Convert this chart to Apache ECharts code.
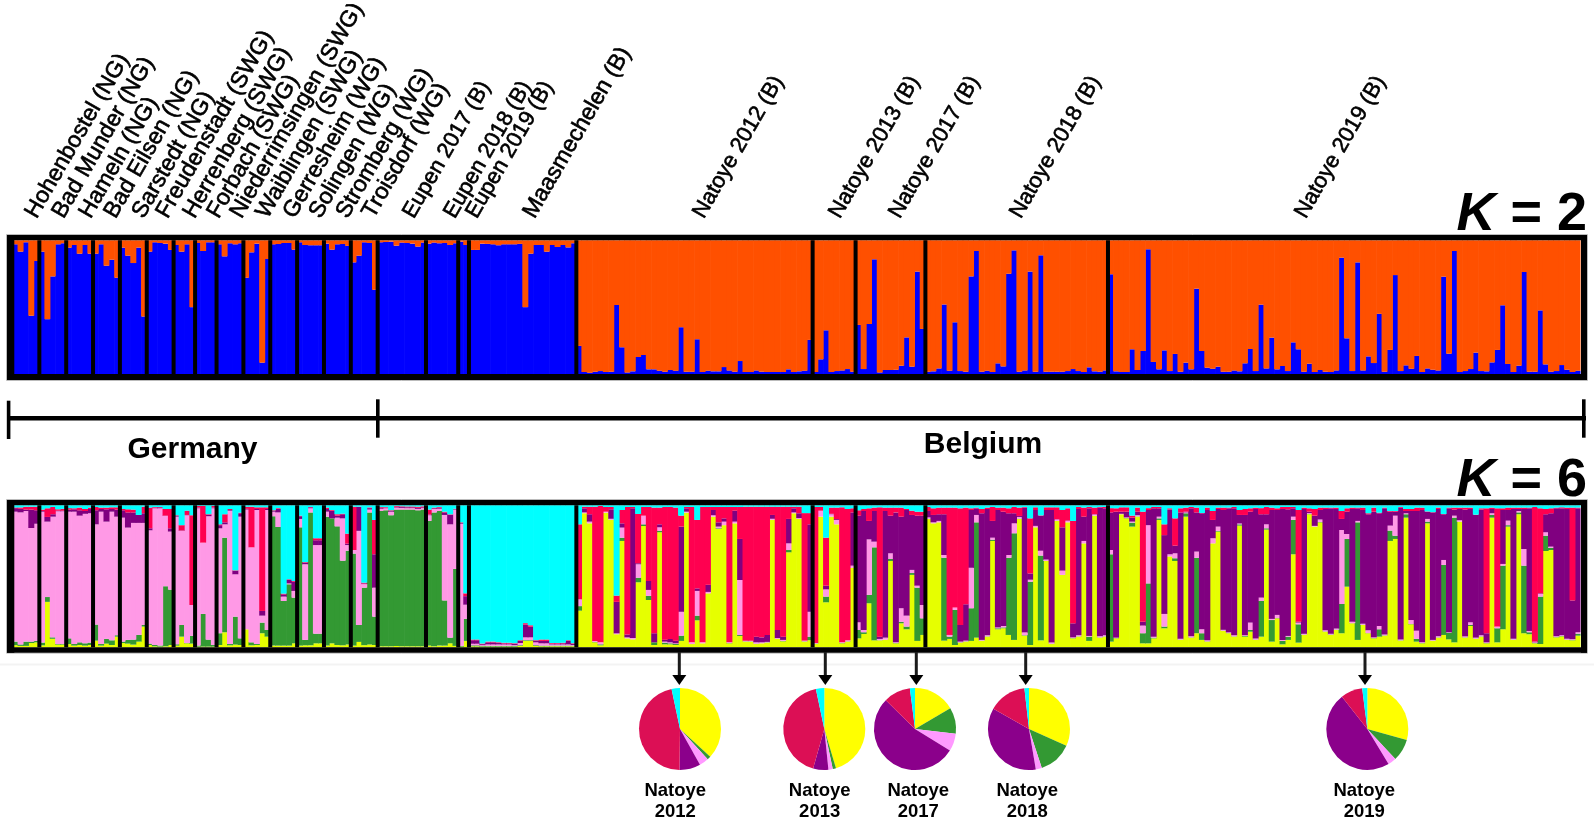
<!DOCTYPE html>
<html><head><meta charset="utf-8">
<script src="https://cdn.jsdelivr.net/npm/echarts@6/dist/echarts.min.js"></script>
<style>html,body{margin:0;padding:0;background:#fff}#c{width:1594px;height:818px}</style>
</head><body><div id="c"></div>
<script>
// K = 2: share of the blue cluster (%), one value per individual
const k2Hohenbostel=[97,91.5,98.5,43.6,84.5];
const k2BadMunder=[91.5,41,73,97,97.8];
const k2Hameln=[94.5,96.5,90,96.5,90];
const k2BadEilsen=[90,97,81,85.5,72];
const k2Sarstedt=[94.5,88.5,83,94.5,43];
const k2Freudenstadt=[91.5,98.5,98,97.5,92.8];
const k2Herrenberg=[96.5,91.5,97,50];
const k2Forbach=[98,92,98.5,98.5];
const k2Niederrimsingen=[97,88,97.8,97,97.8];
const k2Waiblingen=[72,91,97.5,8.5,86];
const k2Gerresheim=[97,97.2,98,98,93];
const k2Solingen=[98.5,96.5,96.3,96.3,96.3];
const k2Stromberg=[97.5,93,97,97.2,95.8];
const k2Troisdorf=[83.5,88.5,98.5,98,63];
const k2Eupen2017=[98.5,98.7,99,96,98.3,98,97.5,95.3,98.3];
const k2Eupen2018=[97.5,98.3,97.8,98,96.5,97.8];
const k2Eupen2019=[99,96.5];
const k2Maasmechelen=[92.8,92.8,97.5,97.3,97,96.3,97,97,97,97.3,50,90,96.5,96.5,91.5,96.5,95,96.5,94.7,97.8];
const k2Natoye2012=[21,1.5,1,1.7,2.2,1.5,1.7,51.6,20,1.2,2,12.7,14.2,3.5,3.5,2.5,1.7,3,2.5,35,1.7,1.7,26,1.5,2.5,2,2,5.2,2.7,1.7,9.7,1.5,1.5,2.7,1.7,1.5,1.5,1.5,1.5,3.5,1.5,2,2.5,25.5];
const k2Natoye2013=[1.5,11,32.7,1.5,2.2,2.7,3.7,1.7];
const k2Natoye2017=[36.7,3.7,37.4,85.8,1.2,3,3,3.2,6.2,27.4,5.5,76.6,33.7];
const k2Natoye2018=[1.7,2,4.2,52,2.5,38.7,2.2,1.7,73,92,1.7,2.5,1.5,8,5.7,75,92.5,1.7,2.7,76.6,1.7,88.8,1.7,1.7,1.7,1.7,2.2,3.7,2.2,1.5,5,2,1.7,2.7];
const k2Natoye2019=[74.6,2,1.5,1.5,18.5,3,17.2,93.3,9,3.5,17.7,2.2,15,1.7,8.5,3.5,63.8,17.2,4.7,4,5.5,1.7,1.7,2.7,2,8,18.7,2.2,51.9,4.2,27.2,3.5,6,2.2,23.7,18.5,1.7,7.7,1.5,3,1.7,1.5,2.7,87,26.7,2.2,83.5,2.7,13.2,8.2,45,1.7,18,74,2.2,6.5,4,13.5,1.5,4.2,3.2,2.7,72.8,15.2,92,1.5,2.2,3.7,16,2.2,2,8.7,18,51.4,7.5,1.5,6.2,76.3,1.7,1.7,47.6,7.2,1.7,2.2,6.7,3.2,1.5,2.5];

// K = 6: running totals (%) per individual, in stack order
// [yellow, +green, +pink, +purple, +crimson]; cyan fills the rest up to 100
const k6Hohenbostel=[[1.5,4,95.5,98,98.5],[1,2,95,97.5,98.5],[1,4,96,97,99],[3,4,84,97,99],[3.5,4.5,87,96.5,99]];
const k6BadMunder=[[1.4,3.3,95.5,96,97],[32,35.4,88.5,91.8,97.9],[6,7,92,93.7,98.8],[1.9,2.3,95.8,96.2,97.2],[1.9,2.3,95.8,96.2,97.5]];
const k6Hameln=[[2.3,6.3,95.5,97,98],[1.2,2.3,95.5,97.2,97.9],[1.6,3.5,92.7,96.5,98.4],[1.2,2.8,94,96,97.4],[1.6,3.3,94.4,97.4,98.4]];
const k6BadEilsen=[[4.7,16,86.6,96.5,98.8],[1.2,2.3,95.5,97.4,98.4],[2.6,5.9,88.5,97.2,98.4],[1.6,4.9,95.5,97.4,98.6],[7.5,8.5,92,97,98.6]];
const k6Sarstedt=[[3,4,91.3,96.5,97.4],[2.6,5.2,84.3,95,97.2],[1.9,5.4,87.6,95,97],[4,8.7,87.6,93.2,93.2],[14.6,15.7,87.6,94.4,99]];
const k6Freudenstadt=[[1.6,2.6,82.4,83.8,98.4],[.7,1.6,97.9,98.4,98.8],[.5,1.2,97.9,98.6,98.8],[.7,43,92.5,92.7,97.4],[1.6,40.6,81.5,83.8,97.4]];
const k6Herrenberg=[[1.2,2.1,92,92.5,93],[7.5,15.7,82,82.3,86],[2.8,3,93,93.2,96.2],[2.6,8,29.8,29.8,93]];
const k6Forbach=[[.5,1.2,97.9,98.4,99.5],[.5,23.5,73.7,73.7,99.5],[.5,5.4,92.3,93.2,93.7],[.5,1.6,97.9,98.4,99.5]];
const k6Niederrimsingen=[[1.6,9.9,83.8,86,86.6],[10.6,77.2,86.6,88,93.7],[1.4,2.3,96.2,96.7,97.4],[1.9,21.6,51.4,53.8,54.2],[1.6,6.3,92,94.4,94.8]];
const k6Waiblingen=[[12.7,12.7,97,97.5,99],[1.4,3.5,70.4,70.4,99],[1.6,2.3,96.7,97.4,98.6],[9.9,17.4,22.3,25.6,98.6],[7.5,12.2,96.7,97.4,98.6]];
const k6Gerresheim=[[1.2,92.3,95.5,96,96.5],[1.2,84.7,95,97.5,98],[1.2,32.6,35.7,37.3,37.8],[1.2,44.4,45,47.4,47.9],[2.8,35,39.7,46.2,46.7]];
const k6Solingen=[[1.2,84.5,90.4,92.3,92.7],[1.4,5.2,58.5,59.6,60],[1.4,95,97.9,98.6,98.8],[2.8,9.6,72,75.4,76.8],[2.8,9.6,72,75.4,76.8]];
const k6Stromberg=[[1.2,92,95.5,97.4,98.4],[2.8,90.8,90.8,96.2,96.7],[1.6,85.2,91.3,92.7,93.7],[1.4,61,90.8,93.7,94.1],[2,68,72,73,80]];
const k6Troisdorf=[[1.2,66,68.5,68.5,99],[3.8,15.7,82,98.8,99],[1.5,42,44.5,45,45.5],[2,95,97,98,98.5],[1.6,21.6,42,65.5,89.7]];
const k6Eupen2017=[[.7,96,97.5,98,98.7],[.7,96.5,97.9,98.2,98.7],[.7,93,95.5,96,96.5],[1,97,98.4,99,99.5],[.7,97,98.2,98.8,99.3],[.7,97,98,98.6,99.2],[.7,97,98,98.6,99.2],[.7,96.5,97.5,98.2,99],[.7,97,98,98.6,99.3]];
const k6Eupen2018=[[1.2,89,93,93.5,97],[.7,95,97.4,97.9,98.4],[1.2,96,97.6,98.4,98.8],[1.2,33,93.2,95,95.5],[2.8,6.8,86.6,93.2,93.6],[1,55.2,97,97.4,97.6]];
const k6Eupen2019=[[.5,1,87,87.5,88],[4.5,20,30,36,38]];
const k6Maasmechelen=[[.7,1.4,2.5,5,5.5],[.7,1.4,2.5,5,5.5],[.5,1,1.5,2.2,2.6],[.5,1,2,3.5,4],[.5,1,2,3.5,4],[.5,1,2,3,3.5],[.5,1,2,2.7,3.2],[.5,1,2,2.7,3.2],[.5,1,1.5,2.3,2.8],[1,1.5,3,4.5,5],[4.5,5,7,16,17],[4.5,5,7,14.5,15.5],[1,1.5,3.5,4.5,5],[.7,1.2,2.8,4.5,5.5],[.7,1.2,2.8,4.5,5.5],[.7,1.2,2,2.6,3],[.7,1.2,2,2.6,3],[.7,1.2,2,2.8,3.2],[.7,1.2,2,4.5,5],[.7,1.2,1.6,2.3,2.8]];
const k6Natoye2012=[[25.8,29,33.8,33.8,86.6],[94.4,94.4,95,97.9,99],[87.3,87.3,88.5,93.7,99],[3.5,3.8,4.5,4.5,99],[1.4,2.1,3.5,3.5,99.5],[94.8,94.8,95.5,95.5,98.8],[89.7,89.7,90.5,97.2,98.8],[9.2,9.2,9.8,32,36.4],[74.9,77.2,84.3,87.3,96.7],[6.3,6.3,7,9,98.8],[5.6,5.6,6.5,97.9,98.8],[45.8,49,58.5,59.2,93.9],[85.4,86.6,92.7,92.7,98.8],[33.3,36.2,40.4,46.7,98.8],[1.6,3.5,3.5,9.9,98.4],[81,81.9,84.5,86.6,98.4],[2.1,3.3,4,5.4,98.8],[2.1,2.8,3.5,5.9,98.8],[1.6,2.3,2.8,4.7,98.4],[4.5,8.2,25,85,92.7],[94.8,94.8,95.5,97.9,98.8],[2.3,2.3,3.5,3.5,98.8],[19,22.3,39.7,41.5,89.7],[2.8,2.8,3.5,3.5,98.8],[38,38,39,44,98.8],[92,92,93,96.7,98.8],[83.3,83.8,85,88,98.8],[86,86,88.5,90.8,98.8],[2.8,3,3.5,3.5,98.8],[87.3,87.3,88.5,96.2,98.8],[8,8.7,47.4,76.3,98.8],[4,4.2,4.7,4.7,99],[4,4.2,4.7,4.7,99],[2.3,2.5,3.5,7.5,99],[2.8,2.8,3.5,7,99],[3.3,3.5,3.8,8.7,99],[89.7,89.7,90.5,93.2,99],[5.9,6,6.5,12.2,99],[4.2,4.5,5.2,7.5,99],[66.9,68.5,73.2,90.4,99],[94.4,94.4,95,97.9,99],[90.4,90.4,91,94.4,99],[4,4.2,4.7,4.7,94.5],[5,7.5,25,86.6,94.5]];
const k6Natoye2013=[[2.3,2.6,3,3,98.8],[92,92,96.2,96.2,98.8],[31.7,35.7,40.8,43.4,77.2],[92,92,93.7,94,98.4],[86.6,86.6,89.7,90.3,98.4],[2.8,3,3.5,3.5,98.6],[4,4.2,5,5,97.4],[56,56,57.5,95,97.9]];
const k6Natoye2017=[[6.3,12.2,17.6,92.7,96.5],[9.4,10.6,12.2,96,97.4],[31,36.9,76,89,97.9],[4.9,70.4,74.4,96,98.4],[4.9,5,5.9,7.5,98.6],[5.4,5.4,6.8,96,98.4],[60.8,62.2,66.2,92.7,98.4],[2.8,3,3.5,95,98.4],[16.9,18,27.5,92,98.4],[12.7,14.6,22.3,96.7,97.4],[51,52.3,54.5,93.2,96.2],[4.5,42,43.4,92.7,95.5],[8.7,20.4,29.8,92.7,95.5]];
const k6Natoye2018=[[90.4,90.4,91.5,96,98.8],[87.3,87.3,88,93.2,97.9],[88,88,89,93.7,98.4],[4.7,63.1,65,93.7,98.4],[5.9,7.5,8.7,8.7,98.4],[1.6,26.3,28,28,98.4],[3.3,3.5,4,15.7,97.9],[4,4.2,4.7,30.3,98.4],[4.5,27.5,56,96.7,97.9],[6.8,88,93.2,97.9,98.4],[4.5,4.7,5.2,94.4,97.4],[7.5,7.7,8.5,97.4,98.4],[74.9,75.8,77.2,89,98.8],[12.7,13.4,14,96.7,98.4],[13.4,14,15,95.5,98.4],[8.7,63,65,94.4,97.9],[5.2,80.3,87.3,94.4,98.8],[90.4,90.6,91.8,92.5,98.4],[8.2,8.5,10.5,98.4,98.8],[1.6,46.2,47.6,52,90.8],[84.5,84.5,85.5,96.7,98.6],[4.9,64.6,68,92.7,92.9],[60.8,60.8,61.8,96.7,98.6],[2.3,2.5,3.3,96.7,98.6],[89,89,90,90.2,98.6],[51,51,54,84.5,96.7],[88,88,89,89.3,97.9],[6.3,6.5,7,16.9,89],[7.5,7.7,8.5,97.4,98.8],[73.2,73.2,74.9,92,98.4],[4.5,7.5,8,97.9,98.8],[92.7,92.7,93.5,93.7,98.4],[6.8,7,7.7,98.4,98.8],[7.5,7.7,8.5,97.9,98.8]];
const k6Natoye2019=[[4,65.5,68.5,95,98],[6.3,6.5,6.8,95.5,97.9],[93.7,93.7,94,95.5,98.6],[90.8,91,91.5,95.5,98.6],[85,87.8,88.5,91.3,92.7],[92,92.2,93,95.5,98.4],[2.8,9.9,15.3,18,95.5],[2.8,45,86,96.7,98],[6.3,6.8,7.5,97.9,98.8],[89.7,90.8,92,97.9,98.8],[13.4,14.6,23.5,79,86.6],[64,64,65.5,97,97.9],[60.8,62.7,66.2,71.6,90.8],[5.2,5.4,6,95,97.9],[92,94.4,95,95.5,98.4],[6.8,7,7.7,97.9,98.8],[9.9,63,67.4,95,98.4],[5.2,9.9,12.7,94.4,94.6],[4,4.2,5,96.7,98.4],[73.2,73.2,76.8,89.7,96],[81.5,82,85,97.4,98.4],[11.5,11.7,12.3,96.7,98.4],[9.9,10,10.5,97.9,98.4],[7.5,7.7,8.5,97.9,98.8],[85.7,86.6,87.2,93.2,96.7],[7.5,8,8.5,93.2,97.4],[11,12.2,17.4,95.5,97.9],[5.2,5.4,6.2,97.4,98.4],[7.5,32.6,35,93.7,98],[82.9,83.8,86.6,93.7,98.8],[4,19.2,20,96.7,98.4],[20.4,20.6,22.8,96.7,97.9],[2.1,4.5,5.2,97.4,98.8],[5.2,7.5,8,97.2,98.8],[65.5,89.7,92,97.9,98.8],[3.3,16.2,17.4,18,96.7],[8.7,8.9,9.5,97.4,98.4],[93.7,93.9,94.5,95.5,97.9],[85,85,85.5,92.7,97.4],[88,88.3,90,96.7,98.4],[11,11.2,12,97.4,98.4],[8.7,9,9.5,97.9,98.4],[12.2,12.4,13.2,97.4,98.4],[9.9,30.5,82.6,90.4,96],[42.7,76.3,79.8,95.5,97.9],[16.9,17,18,97.4,98.4],[5.2,88,89,97.9,98.4],[15.7,15.9,16.6,96.7,98.4],[9.9,10,12,93.7,94.4],[6.3,6.5,7,95.5,98.4],[7.5,12.7,15,94.4,94.8],[8.2,8.4,9,97.9,98.4],[74.9,82.2,85.7,95.5,96],[76.3,78.6,92.7,95.5,96],[4.7,4.9,5.5,98.4,98.8],[91.3,93.7,94.4,96,97.4],[16.2,16.4,19.2,96,97.4],[4,5.9,11.7,96,98.4],[2.8,3,3.5,96.7,98.4],[87.3,88.5,90.4,95.5,95.7],[4.5,4.7,5.2,95,95.2],[6.8,7,7.7,97.4,98.4],[8.7,58,61.5,93.7,93.9],[5.6,10.3,10.6,97.9,98.4],[3.5,91.3,92.7,97,98.4],[88.5,88.5,89.5,97.4,98.4],[6.8,7,7.7,97,98.4],[15,15.8,17.6,97.4,98.4],[5.9,6.1,6.8,93.2,93.4],[7.5,7.7,8.5,97,97.9],[2.8,3,3.5,9.9,97.9],[91.3,93.2,94.4,97.4,98.4],[3.5,13.4,14.6,14.6,97.9],[12.7,57.5,58.7,96.7,97.9],[85,86,89.2,96.7,98.4],[5.2,5.4,6,97.4,98.4],[93.7,95,96,97.4,98.4],[9.9,57.5,69.2,97.4,98.4],[9.2,10.6,11.5,97.9,98.4],[2.8,3,3.5,4,98.8],[2.3,35.7,37.6,38,97.9],[67.8,78.6,81,93.7,97.4],[68.5,70,70.9,94.4,97.9],[7,7.2,7.7,97.9,98.4],[7.7,8,8.5,97.9,98.6],[5.2,5.4,6,97.4,98.4],[4.9,5.1,5.7,33,98.4],[8.2,9.6,10.6,97.9,98.4]];

// Pie slices (%) in drawing order: yellow, green, pink, purple, crimson, cyan
const pie2012=[36.8,1.4,3.7,8.3,46.5,3.3];
const pie2013=[45.4,1.3,1.7,6,42.3,3.3];
const pie2017=[16.5,10.3,7,53.6,10.6,2];
const pie2018=[31.7,13.2,2.4,35.8,15,1.8];
const pie2019=[29.3,8.7,3.3,48,8.6,2];

const clusterNames=['Cluster 1','Cluster 2','Cluster 3','Cluster 4','Cluster 5','Cluster 6'];
const siteLabels=['Hohenbostel (NG)','Bad Munder (NG)','Hameln (NG)','Bad Eilsen (NG)','Sarstedt (NG)','Freudenstadt (SWG)','Herrenberg (SWG)','Forbach (SWG)','Niederrimsingen (SWG)','Waiblingen (SWG)','Gerresheim (WG)','Solingen (WG)','Stromberg (WG)','Troisdorf (WG)','Eupen 2017 (B)','Eupen 2018 (B)','Eupen 2019 (B)','Maasmechelen (B)','Natoye 2012 (B)','Natoye 2013 (B)','Natoye 2017 (B)','Natoye 2018 (B)','Natoye 2019 (B)'];

const k2Groups=[k2Hohenbostel,k2BadMunder,k2Hameln,k2BadEilsen,k2Sarstedt,k2Freudenstadt,k2Herrenberg,k2Forbach,k2Niederrimsingen,k2Waiblingen,k2Gerresheim,k2Solingen,k2Stromberg,k2Troisdorf,k2Eupen2017,k2Eupen2018,k2Eupen2019,k2Maasmechelen,k2Natoye2012,k2Natoye2013,k2Natoye2017,k2Natoye2018,k2Natoye2019];
const k6Groups=[k6Hohenbostel,k6BadMunder,k6Hameln,k6BadEilsen,k6Sarstedt,k6Freudenstadt,k6Herrenberg,k6Forbach,k6Niederrimsingen,k6Waiblingen,k6Gerresheim,k6Solingen,k6Stromberg,k6Troisdorf,k6Eupen2017,k6Eupen2018,k6Eupen2019,k6Maasmechelen,k6Natoye2012,k6Natoye2013,k6Natoye2017,k6Natoye2018,k6Natoye2019];

const BLUE='#0000ff',ORANGE='#ff5000';
const k6Colors=['#e6ff00','#339933','#ff99e6','#800080','#ff0050','#00ffff'];
const pieColors=['#ffff00','#339933','#ff99ff','#8b008b','#dc0f55','#00ffff'];
const FONT='"Liberation Sans",Arial,sans-serif';

const k2Flat=k2Groups.flat();
const k6Flat=k6Groups.flat();
const N=k2Flat.length;
const cats=k2Flat.map((_,i)=>String(i+1));
// convert running totals to each cluster's share
const k6Shares=k6Flat.map(row=>{let prev=0;const out=[];row.forEach(v=>{const t=Math.max(v,prev);out.push(+(t-prev).toFixed(2));prev=t;});out.push(+(100-prev).toFixed(2));return out;});
// population borders, in individuals from the left
const borders=[];let acc=0;k2Groups.slice(0,-1).forEach(g=>{acc+=g.length;borders.push(acc);});

const STEP=5.37,L=12.5,W=N*STEP,BARW=6;
const panels=[{top:240.3,h:133.7},{top:505.3,h:142}];
const frames=[{x:7,y:235,w:1580,h:145},{x:7,y:500,w:1580,h:152.7}];

const grids=panels.map(p=>({left:L,top:p.top,width:W,height:p.h,containLabel:false,show:false}));
const xAxes=[0,1].map(i=>({type:'category',gridIndex:i,data:cats,show:false}));
const xVal=[0,1].map(i=>({type:'value',gridIndex:i,min:0,max:N,show:false}));
const yAxes=[0,1].map(i=>({type:'value',gridIndex:i,min:0,max:100,show:false}));

const series=[];
series.push({type:'bar',name:'Blue',stack:'k2',xAxisIndex:0,yAxisIndex:0,barWidth:BARW,silent:true,itemStyle:{color:BLUE},data:k2Flat});
series.push({type:'bar',name:'Orange',stack:'k2',xAxisIndex:0,yAxisIndex:0,barWidth:BARW,silent:true,itemStyle:{color:ORANGE},data:k2Flat.map(v=>+(100-v).toFixed(2))});
clusterNames.forEach((n,c)=>{
  series.push({type:'bar',name:n,stack:'k6',xAxisIndex:1,yAxisIndex:1,barWidth:BARW,silent:true,itemStyle:{color:k6Colors[c]},data:k6Shares.map(r=>r[c])});
});
[0,1].forEach(i=>{
  series.push({type:'custom',xAxisIndex:2+i,yAxisIndex:i,z:5,silent:true,clip:false,coordinateSystem:'cartesian2d',
    data:borders.map(b=>[b,100]),encode:{x:0,y:1},
    renderItem:(params,api)=>{
      const a=api.coord([api.value(0),100]),b=api.coord([api.value(0),0]);
      return {type:'rect',shape:{x:a[0]-2,y:a[1],width:4,height:b[1]-a[1]},style:{fill:'#000'}};
    }});
});

const pies=[{y:2012,d:pie2012,c:680,lx:675.3},{y:2013,d:pie2013,c:824.3,lx:819.7},{y:2017,d:pie2017,c:915,lx:918.3},{y:2018,d:pie2018,c:1029,lx:1027.3},{y:2019,d:pie2019,c:1367.3,lx:1364.3}];
const arrowX=[679.3,825.3,916.3,1025.7,1365];
pies.forEach(p=>{
  series.push({type:'pie',name:'Natoye '+p.y,center:[p.c,729],radius:[0,41],startAngle:90,clockwise:true,silent:true,label:{show:false},labelLine:{show:false},
    color:pieColors,itemStyle:{borderWidth:0},data:p.d.map((v,i)=>({value:v,name:clusterNames[i]}))});
});

// decoration
const g=[];
g.push({type:'rect',shape:{x:0,y:663.5,width:1594,height:2},style:{fill:'#f3f3f3'},z:0,silent:true});
frames.forEach((f,i)=>{
  const r=(x,y,w,h)=>g.push({type:'rect',shape:{x,y,width:w,height:h},style:{fill:'#000'},z:90,silent:true});
  const p=panels[i];
  g.push({type:'rect',shape:{x:f.x-.5,y:f.y-.5,width:f.w+1,height:f.h+1},style:{fill:'none',stroke:'#bbb',lineWidth:1},z:89,silent:true});
  r(f.x,f.y,f.w,p.top-f.y);
  r(f.x,p.top+p.h,f.w,f.y+f.h-p.top-p.h);
  r(f.x,f.y,14.3-f.x,f.h);
  r(1581,f.y,f.x+f.w-1581,f.h);
});
const siteAnchors=[[41,222],[68,222],[95,222],[120,222],[148,222],[172,222],[199,222],[223,222],[246,222],[272,222],[299,222],[325,222],[352,222],[378,222],[418,222],[459,222],[481,222],[539,222],[708,222],[844,222],[904,222],[1025,222],[1310,222]];
siteLabels.forEach((t,i)=>{
  const sz=/\d/.test(t)?22:23;
  g.push({type:'text',x:siteAnchors[i][0],y:siteAnchors[i][1],rotation:Math.PI/3,z:95,silent:true,
    style:{text:t,font:sz+'px '+FONT,fill:'#000',stroke:'#000',lineWidth:.6,textAlign:'left',textVerticalAlign:'bottom'}});
});
// brackets
const bar=(x,y,w,h)=>g.push({type:'rect',shape:{x,y,width:w,height:h},style:{fill:'#000'},z:95,silent:true});
bar(7,416,1579,4.6);
bar(6.8,400.7,3.6,38.3);
bar(376,399.3,3.6,38.4);
bar(1582,399.3,3.6,38.4);
const bold=(t,x,y,s,al)=>g.push({type:'text',x,y,z:95,silent:true,style:{text:t,font:'bold '+s+'px '+FONT,fill:'#000',textAlign:al||'center',textVerticalAlign:'middle'}});
bold('Germany',192.5,450,30);
bold('Belgium',983,445,30);
// K labels
[['2',215],['6',481]].forEach(([n,y])=>{
  g.push({type:'text',x:1587,y,z:95,silent:true,style:{text:'{k|K}{n| = '+n+'}',textAlign:'right',textVerticalAlign:'middle',fill:'#000',
    rich:{k:{font:'italic bold 54px '+FONT,fill:'#000'},n:{font:'bold 54px '+FONT,fill:'#000'}}}});
});
// arrows + pie captions
arrowX.forEach(x=>{
  g.push({type:'rect',shape:{x:x-1.5,y:652,width:3,height:24},style:{fill:'#1a1a1a'},z:95,silent:true});
  g.push({type:'polygon',shape:{points:[[x-7,675],[x+7,675],[x,685]]},style:{fill:'#000'},z:95,silent:true});
});
pies.forEach(p=>{
  bold('Natoye',p.lx,790.5,18.5);
  bold(String(p.y),p.lx,811.5,18.5);
});

const chart=echarts.init(document.getElementById('c'),null,{renderer:'canvas'});
chart.setOption({animation:false,backgroundColor:'#fff',tooltip:{show:false},legend:{show:false},
  grid:grids,xAxis:xAxes.concat(xVal),yAxis:yAxes,series,graphic:{elements:g}});
</script></body></html>
